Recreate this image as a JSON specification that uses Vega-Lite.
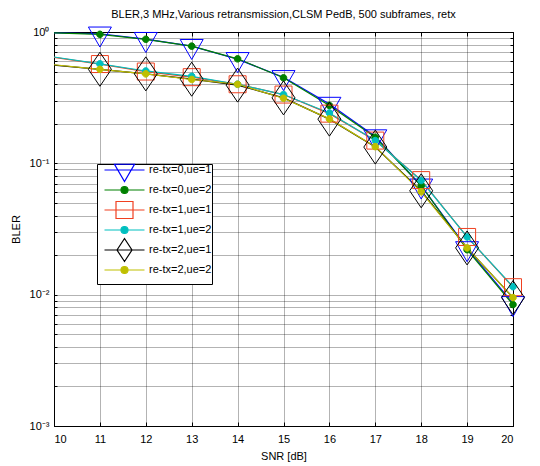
{
  "$schema": "https://vega.github.io/schema/vega-lite/v6.json",
  "width": 459,
  "height": 394,
  "autosize": {"type": "none"},
  "padding": {"left": 54, "top": 32, "right": 27, "bottom": 40},
  "background": "white",
  "title": {"text": "BLER,3 MHz,Various retransmission,CLSM PedB, 500 subframes, retx", "font": "Liberation Sans", "fontSize": 11, "fontWeight": "normal", "color": "black", "offset": 5},
  "config": {
    "view": {"stroke": "black", "strokeWidth": 1},
    "axis": {"labelFont": "Liberation Sans", "labelFontSize": 11, "labelColor": "black", "titleFont": "Liberation Sans", "titleFontSize": 11, "titleFontWeight": "normal", "titleColor": "black", "domainColor": "black", "tickColor": "black", "gridColor": "#000000", "gridOpacity": 0.6, "gridDash": [1, 1], "gridWidth": 1}
  },
  "data": {"values": [
    {"snr": 10, "series": "re-tx=0,ue=1", "bler": 0.985},
    {"snr": 11, "series": "re-tx=0,ue=1", "bler": 0.97},
    {"snr": 12, "series": "re-tx=0,ue=1", "bler": 0.882},
    {"snr": 13, "series": "re-tx=0,ue=1", "bler": 0.78},
    {"snr": 14, "series": "re-tx=0,ue=1", "bler": 0.62},
    {"snr": 15, "series": "re-tx=0,ue=1", "bler": 0.452},
    {"snr": 16, "series": "re-tx=0,ue=1", "bler": 0.283},
    {"snr": 17, "series": "re-tx=0,ue=1", "bler": 0.16},
    {"snr": 18, "series": "re-tx=0,ue=1", "bler": 0.0675},
    {"snr": 19, "series": "re-tx=0,ue=1", "bler": 0.0225},
    {"snr": 20, "series": "re-tx=0,ue=1", "bler": 0.0086},
    {"snr": 10, "series": "re-tx=0,ue=2", "bler": 0.985},
    {"snr": 11, "series": "re-tx=0,ue=2", "bler": 0.96},
    {"snr": 12, "series": "re-tx=0,ue=2", "bler": 0.88},
    {"snr": 13, "series": "re-tx=0,ue=2", "bler": 0.78},
    {"snr": 14, "series": "re-tx=0,ue=2", "bler": 0.625},
    {"snr": 15, "series": "re-tx=0,ue=2", "bler": 0.448},
    {"snr": 16, "series": "re-tx=0,ue=2", "bler": 0.276},
    {"snr": 17, "series": "re-tx=0,ue=2", "bler": 0.158},
    {"snr": 18, "series": "re-tx=0,ue=2", "bler": 0.0675},
    {"snr": 19, "series": "re-tx=0,ue=2", "bler": 0.022},
    {"snr": 20, "series": "re-tx=0,ue=2", "bler": 0.0084},
    {"snr": 10, "series": "re-tx=1,ue=1", "bler": 0.64},
    {"snr": 11, "series": "re-tx=1,ue=1", "bler": 0.57},
    {"snr": 12, "series": "re-tx=1,ue=1", "bler": 0.5},
    {"snr": 13, "series": "re-tx=1,ue=1", "bler": 0.453},
    {"snr": 14, "series": "re-tx=1,ue=1", "bler": 0.4},
    {"snr": 15, "series": "re-tx=1,ue=1", "bler": 0.334},
    {"snr": 16, "series": "re-tx=1,ue=1", "bler": 0.239},
    {"snr": 17, "series": "re-tx=1,ue=1", "bler": 0.149},
    {"snr": 18, "series": "re-tx=1,ue=1", "bler": 0.0745},
    {"snr": 19, "series": "re-tx=1,ue=1", "bler": 0.0275},
    {"snr": 20, "series": "re-tx=1,ue=1", "bler": 0.0114},
    {"snr": 10, "series": "re-tx=1,ue=2", "bler": 0.645},
    {"snr": 11, "series": "re-tx=1,ue=2", "bler": 0.572},
    {"snr": 12, "series": "re-tx=1,ue=2", "bler": 0.505},
    {"snr": 13, "series": "re-tx=1,ue=2", "bler": 0.46},
    {"snr": 14, "series": "re-tx=1,ue=2", "bler": 0.4},
    {"snr": 15, "series": "re-tx=1,ue=2", "bler": 0.334},
    {"snr": 16, "series": "re-tx=1,ue=2", "bler": 0.242},
    {"snr": 17, "series": "re-tx=1,ue=2", "bler": 0.149},
    {"snr": 18, "series": "re-tx=1,ue=2", "bler": 0.074},
    {"snr": 19, "series": "re-tx=1,ue=2", "bler": 0.0275},
    {"snr": 20, "series": "re-tx=1,ue=2", "bler": 0.0115},
    {"snr": 10, "series": "re-tx=2,ue=1", "bler": 0.56},
    {"snr": 11, "series": "re-tx=2,ue=1", "bler": 0.52},
    {"snr": 12, "series": "re-tx=2,ue=1", "bler": 0.48},
    {"snr": 13, "series": "re-tx=2,ue=1", "bler": 0.437},
    {"snr": 14, "series": "re-tx=2,ue=1", "bler": 0.394},
    {"snr": 15, "series": "re-tx=2,ue=1", "bler": 0.315},
    {"snr": 16, "series": "re-tx=2,ue=1", "bler": 0.217},
    {"snr": 17, "series": "re-tx=2,ue=1", "bler": 0.133},
    {"snr": 18, "series": "re-tx=2,ue=1", "bler": 0.0618},
    {"snr": 19, "series": "re-tx=2,ue=1", "bler": 0.0227},
    {"snr": 20, "series": "re-tx=2,ue=1", "bler": 0.0095},
    {"snr": 10, "series": "re-tx=2,ue=2", "bler": 0.563},
    {"snr": 11, "series": "re-tx=2,ue=2", "bler": 0.52},
    {"snr": 12, "series": "re-tx=2,ue=2", "bler": 0.48},
    {"snr": 13, "series": "re-tx=2,ue=2", "bler": 0.435},
    {"snr": 14, "series": "re-tx=2,ue=2", "bler": 0.4},
    {"snr": 15, "series": "re-tx=2,ue=2", "bler": 0.313},
    {"snr": 16, "series": "re-tx=2,ue=2", "bler": 0.218},
    {"snr": 17, "series": "re-tx=2,ue=2", "bler": 0.134},
    {"snr": 18, "series": "re-tx=2,ue=2", "bler": 0.0607},
    {"snr": 19, "series": "re-tx=2,ue=2", "bler": 0.0227},
    {"snr": 20, "series": "re-tx=2,ue=2", "bler": 0.0095}
  ]},
  "resolve": {"scale": {"shape": "independent", "stroke": "independent", "fill": "independent"}, "axis": {"x": "independent", "y": "independent"}},
  "layer": [
    {
      "mark": {"type": "line", "strokeWidth": 1.2, "clip": true},
      "encoding": {
        "x": {"field": "snr", "type": "quantitative", "scale": {"domain": [10, 20], "nice": false, "zero": false},
          "axis": {"orient": "bottom", "values": [10, 11, 12, 13, 14, 15, 16, 17, 18, 19, 20], "format": "d", "title": "SNR [dB]", "tickSize": -4, "labelPadding": 11, "titlePadding": 6, "grid": true, "domain": true}},
        "y": {"field": "bler", "type": "quantitative", "scale": {"type": "log", "domain": [0.001, 1], "nice": false},
          "axis": {"orient": "left", "values": [0.001, 0.002, 0.003, 0.004, 0.005, 0.006, 0.007, 0.008, 0.009, 0.01, 0.02, 0.03, 0.04, 0.05, 0.06, 0.07, 0.08, 0.09, 0.1, 0.2, 0.3, 0.4, 0.5, 0.6, 0.7, 0.8, 0.9, 1],
            "labelExpr": "datum.value == 1 ? '10⁰' : (abs(datum.value - 0.1) < 1e-9 ? '10⁻¹' : (abs(datum.value - 0.01) < 1e-10 ? '10⁻²' : (abs(datum.value - 0.001) < 1e-11 ? '10⁻³' : '')))",
            "title": "BLER", "tickSize": -3, "labelPadding": 8, "titlePadding": 8, "grid": true, "domain": true}},
        "stroke": {"field": "series", "type": "nominal",
          "scale": {"domain": ["re-tx=0,ue=1", "re-tx=0,ue=2", "re-tx=1,ue=1", "re-tx=1,ue=2", "re-tx=2,ue=1", "re-tx=2,ue=2"], "range": ["#0000FF", "#008000", "#F04020", "#00BFBF", "#000000", "#BFBF00"]},
          "legend": null}
      }
    },
    {
      "transform": [{"filter": "datum.snr >= 11"}],
      "mark": {"type": "point", "size": 400, "strokeWidth": 1, "opacity": 1, "clip": false},
      "encoding": {
        "x": {"field": "snr", "type": "quantitative", "scale": {"domain": [10, 20], "nice": false, "zero": false},
          "axis": {"orient": "top", "values": [10, 11, 12, 13, 14, 15, 16, 17, 18, 19, 20], "labels": false, "title": null, "tickSize": -4, "grid": false, "domain": false}},
        "y": {"field": "bler", "type": "quantitative", "scale": {"type": "log", "domain": [0.001, 1], "nice": false},
          "axis": {"orient": "right", "values": [0.001, 0.002, 0.003, 0.004, 0.005, 0.006, 0.007, 0.008, 0.009, 0.01, 0.02, 0.03, 0.04, 0.05, 0.06, 0.07, 0.08, 0.09, 0.1, 0.2, 0.3, 0.4, 0.5, 0.6, 0.7, 0.8, 0.9, 1], "labels": false, "title": null, "tickSize": -3, "grid": false, "domain": false}},
        "shape": {"field": "series", "type": "nominal",
          "scale": {"domain": ["re-tx=0,ue=1", "re-tx=0,ue=2", "re-tx=1,ue=1", "re-tx=1,ue=2", "re-tx=2,ue=1", "re-tx=2,ue=2"],
            "range": ["M-1.15,-0.67L1.15,-0.67L0,1.33Z", "M0.33,0A0.33,0.33,0,1,1,-0.33,0A0.33,0.33,0,1,1,0.33,0Z", "M-0.85,-0.85L0.85,-0.85L0.85,0.85L-0.85,0.85Z", "M0.33,0A0.33,0.33,0,1,1,-0.33,0A0.33,0.33,0,1,1,0.33,0Z", "M0,-1.7L1.15,0L0,1.7L-1.15,0Z", "M0.33,0A0.33,0.33,0,1,1,-0.33,0A0.33,0.33,0,1,1,0.33,0Z"]},
          "legend": null},
        "stroke": {"field": "series", "type": "nominal",
          "scale": {"domain": ["re-tx=0,ue=1", "re-tx=0,ue=2", "re-tx=1,ue=1", "re-tx=1,ue=2", "re-tx=2,ue=1", "re-tx=2,ue=2"], "range": ["#0000FF", "#008000", "#F04020", "#00BFBF", "#000000", "#BFBF00"]},
          "legend": null},
        "fill": {"field": "series", "type": "nominal",
          "scale": {"domain": ["re-tx=0,ue=1", "re-tx=0,ue=2", "re-tx=1,ue=1", "re-tx=1,ue=2", "re-tx=2,ue=1", "re-tx=2,ue=2"], "range": ["transparent", "#008000", "transparent", "#00BFBF", "transparent", "#BFBF00"]},
          "legend": null}
      }
    },
    {
      "transform": [{"filter": "false"}],
      "mark": {"type": "point", "strokeWidth": 1},
      "encoding": {
        "x": {"field": "snr", "type": "quantitative", "axis": null},
        "y": {"field": "bler", "type": "quantitative", "scale": {"type": "log"}, "axis": null},
        "shape": {"field": "series", "type": "nominal",
          "scale": {"domain": ["re-tx=0,ue=1", "re-tx=0,ue=2", "re-tx=1,ue=1", "re-tx=1,ue=2", "re-tx=2,ue=1", "re-tx=2,ue=2"],
            "range": [
              "M-1,-2.3L-1,-2.3M19.6,2.3L19.6,2.3M0.3,0L8.3,0M2.3,-1.15L6.3,-1.15L4.3,2.3Z",
              "M-1,-2.3L-1,-2.3M19.6,2.3L19.6,2.3M0.3,0L8.3,0M5,0A0.7,0.7,0,1,1,3.6,0A0.7,0.7,0,1,1,5,0Z",
              "M-1,-2.3L-1,-2.3M19.6,2.3L19.6,2.3M0.3,0L8.3,0M2.6,-1.7L6,-1.7L6,1.7L2.6,1.7Z",
              "M-1,-2.3L-1,-2.3M19.6,2.3L19.6,2.3M0.3,0L8.3,0M5,0A0.7,0.7,0,1,1,3.6,0A0.7,0.7,0,1,1,5,0Z",
              "M-1,-2.3L-1,-2.3M19.6,2.3L19.6,2.3M0.3,0L8.3,0M4.3,-2.3L5.8,0L4.3,2.3L2.8,0Z",
              "M-1,-2.3L-1,-2.3M19.6,2.3L19.6,2.3M0.3,0L8.3,0M5,0A0.7,0.7,0,1,1,3.6,0A0.7,0.7,0,1,1,5,0Z"]},
          "legend": {"orient": "none", "legendX": 43, "legendY": 132, "title": null, "strokeColor": "black", "fillColor": "white", "padding": 0, "labelFont": "Liberation Sans", "labelFontSize": 11, "labelColor": "black", "symbolSize": 100, "symbolStrokeWidth": 1.2, "labelOffset": 40, "rowPadding": -8.5, "symbolOpacity": 1}},
        "stroke": {"field": "series", "type": "nominal",
          "scale": {"domain": ["re-tx=0,ue=1", "re-tx=0,ue=2", "re-tx=1,ue=1", "re-tx=1,ue=2", "re-tx=2,ue=1", "re-tx=2,ue=2"], "range": ["#0000FF", "#008000", "#F04020", "#00BFBF", "#000000", "#BFBF00"]},
          "legend": {"orient": "none", "legendX": 43, "legendY": 132, "title": null, "strokeColor": "black", "fillColor": "white", "padding": 0, "labelFont": "Liberation Sans", "labelFontSize": 11, "labelColor": "black", "symbolSize": 100, "symbolStrokeWidth": 1.2, "labelOffset": 40, "rowPadding": -8.5, "symbolOpacity": 1}},
        "fill": {"field": "series", "type": "nominal",
          "scale": {"domain": ["re-tx=0,ue=1", "re-tx=0,ue=2", "re-tx=1,ue=1", "re-tx=1,ue=2", "re-tx=2,ue=1", "re-tx=2,ue=2"], "range": ["transparent", "#008000", "transparent", "#00BFBF", "transparent", "#BFBF00"]},
          "legend": {"orient": "none", "legendX": 43, "legendY": 132, "title": null, "strokeColor": "black", "fillColor": "white", "padding": 0, "labelFont": "Liberation Sans", "labelFontSize": 11, "labelColor": "black", "symbolSize": 100, "symbolStrokeWidth": 1.2, "labelOffset": 40, "rowPadding": -8.5, "symbolOpacity": 1}}
      }
    }
  ]
}
